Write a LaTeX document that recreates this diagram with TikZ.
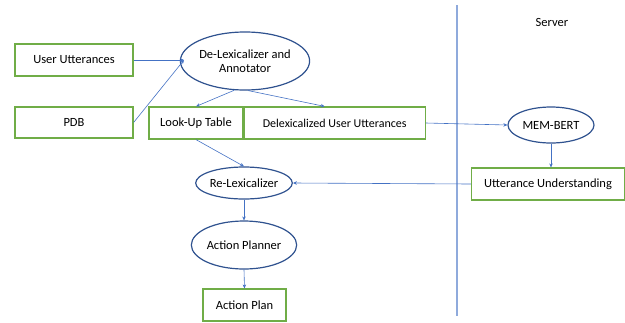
\documentclass[tikz,border=0pt]{standalone}
\usepackage{fontspec}
\setmainfont{Carlito}
\usetikzlibrary{shapes.geometric,arrows.meta}
\definecolor{boxgreen}{RGB}{112,173,71}
\definecolor{ovalblue}{RGB}{47,82,143}
\definecolor{linkblue}{RGB}{68,114,196}
\definecolor{sepblue}{RGB}{143,170,220}

\begin{document}
\begin{tikzpicture}[x=1pt,y=-1pt,
    font=\fontsize{12.5}{14.5}\selectfont,
    box/.style={draw=boxgreen,line width=1.2pt,fill=white,inner sep=0pt},
    oval/.style={draw=ovalblue,line width=1.2pt,ellipse,inner sep=0pt,align=center},
    link/.style={draw=linkblue,line width=0.6pt,-{Stealth[length=4pt,width=3.5pt]}}]
    \useasboundingbox (0,0) rectangle (625,322);
    % client/server split
    \draw[sepblue,line width=1.2pt] (457,5) -- (457,316);
    \node (server) at (552,22) {Server};
    % input side
    \node[box,minimum width=118pt,minimum height=32pt] (usr) at (74,60) {User Utterances};
    \node[box,minimum width=118pt,minimum height=31pt] (pdb) at (74,122.5) {PDB};
    \node[oval,minimum width=122pt,minimum height=58pt] (delex) at (245,61) {De-Lexicalizer and\\Annotator};
    \node[box,minimum width=94pt,minimum height=32pt] (lut) at (196,123) {Look-Up Table};
    \node[box,minimum width=181pt,minimum height=32pt,anchor=west,
          font=\fontsize{12}{14}\selectfont] (dlu) at (lut.east) {Delexicalized User Utterances};
    \node[oval,minimum width=86pt,minimum height=32pt] (relex) at (244,183) {Re-Lexicalizer};
    \node[oval,minimum width=100pt,minimum height=48pt] (planner) at (244,245) {Action Planner};
    \node[box,minimum width=83pt,minimum height=32pt] (plan) at (244.5,305) {Action Plan};
    % server side
    \node[oval,minimum width=86pt,minimum height=36pt] (membert) at (551,125) {MEM-BERT};
    \node[box,minimum width=153pt,minimum height=32pt] (uu) at (548,184) {Utterance Understanding};
    % connectors
    \coordinate (din) at (184,60);
    \draw[link] (usr.east) -- (din);
    \draw[link] (pdb.east) -- (din);
    \draw[link] (delex.250) -- (lut.north);
    \draw[link] (delex.276) -- ([xshift=-10pt]dlu.north);
    \draw[link] (dlu.east) -- (membert.west);
    \draw[link] (membert.south) -- (uu.north -| membert.south);
    \draw[link] (uu.west) -- (relex.east);
    \draw[link] (lut.south) -- (relex.north);
    \draw[link] (relex.south) -- (planner.north);
    \draw[link] (planner.south) -- (plan.north);
\end{tikzpicture}
\end{document}
